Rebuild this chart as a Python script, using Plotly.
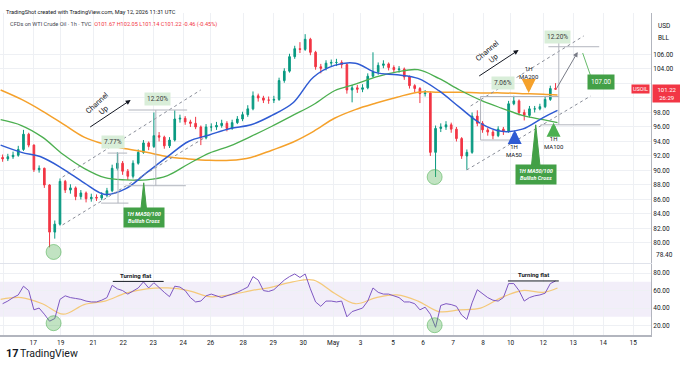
import plotly.graph_objects as go
import pandas as pd

# ---------------- data ----------------
FIRST_OPEN = 91.8
close = [91.6, 91.9, 92.1, 92.9, 95.0, 93.5, 90.1, 90.3, 88.0, 81.5,
         82.6, 88.5, 87.3, 87.6, 86.4, 86.9, 86.1, 86.3, 86.2, 86.6,
         87.2, 90.3, 91.0, 89.9, 89.2, 91.0, 92.5, 93.8, 93.3, 94.8,
         94.6, 93.4, 94.2, 97.1, 97.2, 96.7, 96.5, 96.0, 94.5, 96.0,
         96.0, 96.2, 96.5, 95.8, 96.6, 97.1, 97.7, 98.5, 100.3, 100.0,
         99.7, 99.7, 99.8, 102.4, 103.7, 105.7, 106.8, 106.7, 108.1, 106.3,
         104.3, 104.1, 104.8, 104.9, 104.9, 104.6, 101.1, 101.4, 101.2, 101.4,
         103.0, 103.6, 104.5, 104.7, 104.2, 103.9, 104.0, 102.9, 101.7, 101.3,
         100.6, 100.7, 92.5, 95.8, 96.0, 96.3, 95.7, 94.4, 92.0, 92.5,
         97.5, 96.5, 95.6, 95.3, 94.8, 95.7, 95.4, 99.2, 99.6, 98.0,
         97.6, 98.5, 98.5, 98.8, 99.8, 101.3, 101.22]
high = [92.2, 92.3, 92.6, 93.4, 95.6, 95.2, 93.6, 90.7, 90.4, 88.1,
        83.1, 88.9, 88.7, 88.1, 87.8, 87.3, 87.1, 86.8, 86.7, 87.0,
        87.6, 90.8, 92.5, 91.3, 90.2, 91.4, 92.9, 94.2, 94.0, 98.0,
        95.3, 94.8, 94.6, 98.3, 97.7, 97.5, 97.0, 97.4, 96.2, 96.4,
        96.5, 96.7, 97.0, 96.8, 97.0, 97.5, 98.1, 99.0, 100.9, 100.6,
        100.3, 100.2, 100.3, 102.8, 104.1, 106.1, 107.2, 107.7, 108.8, 108.3,
        106.5, 104.7, 105.2, 105.3, 105.4, 105.2, 104.8, 101.8, 101.8, 101.9,
        103.4, 106.3, 104.9, 105.2, 104.9, 104.5, 104.4, 104.2, 103.1, 101.9,
        101.5, 101.1, 100.9, 96.2, 96.5, 96.8, 96.6, 96.0, 94.6, 92.9,
        98.0, 98.3, 96.8, 95.9, 95.6, 96.1, 96.0, 99.6, 100.3, 99.8,
        98.4, 98.9, 98.9, 99.2, 100.2, 101.7, 102.05]
low = [91.2, 91.3, 91.6, 91.9, 92.7, 93.2, 89.8, 89.7, 87.6, 79.4,
       80.6, 82.4, 86.9, 86.8, 85.9, 86.0, 85.6, 85.7, 85.8, 85.9,
       86.3, 87.0, 90.0, 89.4, 88.7, 88.9, 90.8, 92.3, 92.8, 93.1,
       94.0, 93.0, 93.1, 94.0, 96.6, 96.3, 96.0, 95.7, 93.5, 94.3,
       95.4, 95.6, 95.9, 95.4, 95.6, 96.4, 96.8, 97.4, 98.3, 99.5,
       99.3, 99.2, 99.3, 99.6, 102.1, 103.5, 105.4, 106.2, 106.5, 105.9,
       103.9, 103.4, 103.8, 104.4, 104.4, 104.1, 100.6, 99.4, 100.7, 100.8,
       101.2, 102.8, 103.2, 104.1, 103.8, 103.5, 103.5, 102.5, 101.3, 100.8,
       99.3, 100.2, 92.0, 89.1, 95.3, 95.6, 95.2, 94.0, 91.6, 90.1,
       92.3, 96.1, 95.2, 94.8, 94.3, 94.6, 94.9, 95.2, 99.0, 97.6,
       96.9, 97.3, 98.0, 98.3, 98.6, 99.6, 101.14]
rsi = [45, 48, 52, 55, 65, 60, 38, 40, 33, 25,
       28, 50, 54, 52, 51, 50, 48, 47, 47, 49,
       52, 66, 62, 60, 56, 60, 63, 70, 63, 69,
       63, 58, 53, 65, 64, 60, 52, 47, 48, 54,
       56, 54, 52, 54, 56, 58, 61, 64, 76, 72,
       60, 59, 61, 67, 72, 76, 79, 75, 79, 62,
       47, 42, 48, 48, 47, 48, 30, 36, 38, 40,
       48, 63, 58, 56, 56, 54, 52, 47, 47, 45,
       38, 41, 33, 18, 43, 45, 44, 42, 32, 27,
       46, 61, 56, 52, 49, 48, 52, 68, 68, 60,
       48, 52, 54, 55, 57, 68, 71]
ma_idx = [0, 16, 32, 48, 64, 80, 96, 112, 128, 144, 160, 176, 192, 208,
          224, 240, 256, 272, 288, 304, 320, 336, 352, 368, 384, 400, 416, 427]
ma50 = [93.5, 92.5, 91.8, 90.2, 88.3, 86.7, 87.5, 89.7, 91.9, 94.0, 94.9, 95.8, 96.3, 97.6,
        99.3, 102.9, 104.5, 104.8, 103.5, 103.2, 102.7, 101.0, 98.7, 96.5, 95.4, 95.7, 97.3, 98.3]
ma100 = [97.0, 96.2, 94.6, 92.2, 90.3, 89.0, 88.7, 88.7, 89.3, 90.9, 92.4, 93.4, 94.7, 96.1,
         97.6, 99.1, 101.0, 101.9, 102.9, 103.6, 103.9, 102.7, 101.1, 99.7, 98.6, 97.6, 97.0, 96.6]
ma200 = [101.1, 99.8, 98.2, 96.4, 94.6, 93.6, 93.0, 92.5, 91.9, 91.6, 91.4, 91.4, 91.8, 92.8,
         93.9, 95.4, 97.2, 98.4, 99.3, 100.1, 100.8, 100.8, 100.8, 100.7, 100.7, 100.6, 100.5, 100.4]
rsi_ma = [50, 52, 45, 33, 44, 48, 57, 62, 63, 60, 53, 55, 60, 64,
          70, 72, 57, 45, 52, 55, 48, 36, 38, 40, 52, 60, 58, 63]
tick_dates = ["2026-04-16", "2026-04-17", "2026-04-19", "2026-04-21", "2026-04-22", "2026-04-23",
              "2026-04-24", "2026-04-26", "2026-04-28", "2026-04-29", "2026-04-30", "2026-05-01",
              "2026-05-03", "2026-05-05", "2026-05-06", "2026-05-07", "2026-05-08", "2026-05-10",
              "2026-05-12", "2026-05-13", "2026-05-14", "2026-05-15"]
tick_text = ["16", "17", "19", "21", "22", "23", "24", "26", "28", "29", "30", "May",
             "3", "5", "6", "7", "8", "10", "12", "13", "14", "15"]
price_ticks = [80, 82, 84, 86, 88, 90, 92, 94, 96, 98, 100, 102, 104, 106]
rsi_ticks = [20, 40, 60, 80]
LAST = 101.22

# ---------------- session calendar (1h bars, UTC) ----------------
def session_open(t):
    if t.hour == 21:
        return False
    wd = t.weekday()
    if wd == 5:
        return False
    if wd == 6 and t.hour < 22:
        return False
    if wd == 4 and t.hour >= 21:
        return False
    return True

hours = pd.date_range("2026-04-15 22:00", "2026-05-15 23:00", freq="h")
bars = [t for t in hours if session_open(t)]
first_bar = {}
for i, t in enumerate(bars):
    first_bar.setdefault(t.strftime("%Y-%m-%d"), i)
tick_idx = [first_bar[d] for d in tick_dates]

N = 4  # hourly bars per candle drawn
cx = [N * k + (N - 1) / 2 for k in range(len(close))]
opens = [FIRST_OPEN] + close[:-1]

FONT = "Roboto, 'Noto Sans', sans-serif"
DARK = "#131722"
GREEN_UP = "#089981"
RED = "#F23645"
LBL_GREEN = "#43a047"

fig = go.Figure()
fig.add_trace(go.Candlestick(
    x=cx, open=opens, high=high, low=low, close=close,
    increasing=dict(line=dict(color=GREEN_UP, width=1), fillcolor=GREEN_UP),
    decreasing=dict(line=dict(color=RED, width=1), fillcolor=RED),
    whiskerwidth=0, xaxis="x", yaxis="y", showlegend=False, hoverinfo="skip"))
fig.add_trace(go.Scatter(x=ma_idx, y=ma200, mode="lines", line=dict(color="#f5a12b", width=1.5, shape="spline"), xaxis="x", yaxis="y"))
fig.add_trace(go.Scatter(x=ma_idx, y=ma100, mode="lines", line=dict(color="#4caf50", width=1.3, shape="spline"), xaxis="x", yaxis="y"))
fig.add_trace(go.Scatter(x=ma_idx, y=ma50, mode="lines", line=dict(color="#2f5bd3", width=1.5, shape="spline"), xaxis="x", yaxis="y"))

# green circles at the lows
fig.add_trace(go.Scatter(x=[40.6, 332.8], y=[78.76, 89.1], mode="markers",
                         marker=dict(size=15, color="rgba(76,175,80,0.35)", line=dict(color="rgba(76,175,80,0.55)", width=1)),
                         xaxis="x", yaxis="y"))
# RSI
fig.add_trace(go.Scatter(x=ma_idx, y=rsi_ma, mode="lines", line=dict(color="#f4c97a", width=1.2, shape="spline"), xaxis="x2", yaxis="y2"))
fig.add_trace(go.Scatter(x=cx, y=rsi, mode="lines", line=dict(color="#7e57c2", width=1), xaxis="x2", yaxis="y2"))
fig.add_trace(go.Scatter(x=[40.6, 332.8], y=[22.7, 20.4], mode="markers",
                         marker=dict(size=15, color="rgba(76,175,80,0.35)", line=dict(color="rgba(76,175,80,0.55)", width=1)),
                         xaxis="x2", yaxis="y2"))

shapes = []
def seg(x0, y0, x1, y1, color="#b2b5be", width=1, dash="solid", xr="x", yr="y"):
    shapes.append(dict(type="line", xref=xr, yref=yr, x0=x0, y0=y0, x1=x1, y1=y1,
                       line=dict(color=color, width=width, dash=dash)))

# RSI band
shapes.append(dict(type="rect", xref="paper", yref="y2", x0=0, x1=1, y0=30, y1=70,
                   fillcolor="rgba(126,87,194,0.10)", line=dict(width=0), layer="below"))
# channel lines (dotted)
seg(47.5, 89.1, 153.4, 101.1, "#8a8e99", 1, "dot")
seg(47.5, 82.5, 157.0, 94.6, "#8a8e99", 1, "dot")
seg(360.4, 98.9, 447.1, 108.55, "#8a8e99", 1, "dot")
seg(357.4, 90.07, 452.5, 100.28, "#8a8e99", 1, "dot")
# measure lines
seg(98, 98.34, 143, 98.34); seg(97, 87.9, 142, 87.9); seg(119, 87.9, 119, 98.34)
seg(82, 92.4, 97, 92.4); seg(77, 85.5, 98, 85.5); seg(90, 85.5, 90, 92.4)
seg(420, 107.07, 459, 107.07); seg(414, 96.3, 460, 96.3); seg(428, 96.3, 428, 107.8)
seg(368, 100.2, 428, 100.2); seg(368, 94.2, 391, 94.2); seg(368, 94.2, 368, 100.2)
# leader line to 107.00 label
seg(452.5, 103.0, 446.3, 106.2, "#66bb6a", 1)
# callout pointers
shapes.append(dict(type="path", xref="x", yref="y", path="M 107.4,84.4 L 112.0,84.4 L 109.7,88.3 Z",
                   fillcolor=LBL_GREEN, line=dict(color=LBL_GREEN, width=1)))
shapes.append(dict(type="path", xref="x", yref="y", path="M 407.0,90.6 L 413.6,90.6 L 410.3,96.3 Z",
                   fillcolor=LBL_GREEN, line=dict(color=LBL_GREEN, width=1)))
# turning flat lines on RSI
seg(86, 70.5, 125, 70.5, DARK, 1, xr="x2", yr="y2")
seg(389, 71, 428, 71, DARK, 1, xr="x2", yr="y2")

ann = []
def txt(x, y, text, size=6.5, color=DARK, xr="x", yr="y", **kw):
    d = dict(x=x, y=y, xref=xr, yref=yr, text=text, showarrow=False,
             font=dict(family=FONT, size=size, color=color))
    d.update(kw)
    ann.append(d)

def arrow(x0, y0, x1, y1, color, width=1, head=2, size=1.0):
    ann.append(dict(x=x1, y=y1, ax=x0, ay=y0, xref="x", yref="y", axref="x", ayref="y",
                    text="", showarrow=True, arrowhead=head, arrowsize=size,
                    arrowwidth=width, arrowcolor=color, standoff=0, startstandoff=0))

# left drawings
txt(76.7, 98.76, "Channel<br>Up", 7.5, textangle=-42)
arrow(67.5, 95.86, 99.7, 99.72, DARK, 1, 2, 1)
txt(120.4, 99.86, "12.20%", 6.5, "#3a3a3a", bgcolor="#d9eed9", borderpad=2)
txt(85.9, 93.93, "7.77%", 6.5, "#3a3a3a", bgcolor="#d9eed9", borderpad=2)
txt(109.7, 83.45, "<b><i>1H MA50/100<br>Bullish Cross</i></b>", 5.5, "white", bgcolor=LBL_GREEN, borderpad=3)
# right drawings
txt(375.8, 105.93, "Channel<br>Up", 7.5, textangle=-40)
arrow(365.8, 102.9, 397.2, 106.62, DARK, 1, 2, 1)
txt(427.1, 108.41, "12.20%", 6.5, "#3a3a3a", bgcolor="#d9eed9", borderpad=2)
txt(385.0, 102.07, "7.06%", 6.5, "#3a3a3a", bgcolor="#d9eed9", borderpad=2)
txt(404.9, 103.45, "1H<br>MA200", 6, DARK)
arrow(404.9, 102.3, 404.9, 100.7, "#f5a12b", 4, 2, 0.7)
arrow(394.2, 94.0, 394.2, 95.6, "#2f5bd3", 4, 2, 0.7)
txt(394.2, 92.8, "1H<br>MA50", 6, DARK)
arrow(424.0, 95.0, 424.0, 96.6, "#4caf50", 4, 2, 0.7)
txt(424.0, 93.8, "1H<br>MA100", 6, DARK)
txt(410.3, 89.38, "<b><i>1H MA50/100<br>Bullish Cross</i></b>", 5.5, "white", bgcolor=LBL_GREEN, borderpad=3)
arrow(425.6, 101.1, 442.5, 106.34, "#787b86", 1, 2, 1)
txt(460.1, 102.2, "107.00", 6.5, "white", bgcolor=LBL_GREEN, borderpad=3)
# RSI labels
txt(103.5, 77.5, "<b>Turning flat</b>", 6, DARK, xr="x2", yr="y2")
txt(408.7, 78.0, "<b>Turning flat</b>", 6, DARK, xr="x2", yr="y2")

# price tags / axis extras
txt(1.0, LAST, "101.22<br>26:29", 6, "white", xr="paper", yr="y", xanchor="left", yanchor="top",
    yshift=5, bgcolor=RED, borderpad=1, width=26, xshift=1)
txt(1.0, LAST, "USOIL", 5.5, "white", xr="paper", yr="y", xanchor="right", bgcolor=RED, borderpad=1, xshift=-1)
txt(1.0, 78.4, "78.40", 6.5, DARK, xr="paper", yr="y", xanchor="left", xshift=3)
txt(1.0, 0.978, "USD", 6.5, DARK, xr="paper", yr="paper", xanchor="left", xshift=5)
txt(1.0, 0.941, "BLL", 6.5, DARK, xr="paper", yr="paper", xanchor="left", xshift=5)
# header
txt(0.006, 1.0186, "TradingShot created with TradingView.com, May 12, 2026 11:31 UTC", 5.6, DARK,
    xr="paper", yr="paper", xanchor="left")
txt(0.012, 0.981,
    "CFDs on WTI Crude Oil · 1h · TVC  <span style='color:#F23645'>O101.67 H102.05 L101.14 C101.22 -0.46 (-0.45%)</span>",
    5.6, "#434651", xr="paper", yr="paper", xanchor="left")
# logo
txt(0.006, -0.084, "<b>17</b>", 11, DARK, xr="paper", yr="paper", xanchor="left")
txt(0.027, -0.084, "TradingView", 10.5, DARK, xr="paper", yr="paper", xanchor="left")

GRID = "#eef0f4"
xr_ = [-0.5, 498.7]
fig.update_layout(
    width=680, height=375, margin=dict(l=0, r=29, t=13, b=40),
    paper_bgcolor="white", plot_bgcolor="white", showlegend=False, boxgap=0.55,
    shapes=shapes, annotations=ann, font=dict(family=FONT, color=DARK),
    xaxis=dict(domain=[0, 1], range=xr_, tickvals=tick_idx, showticklabels=False, showgrid=True,
               gridcolor=GRID, zeroline=False, rangeslider=dict(visible=False), anchor="y",
               showline=True, linecolor="#e0e3eb", linewidth=1),
    xaxis2=dict(domain=[0, 1], range=xr_, matches="x", tickvals=tick_idx, ticktext=tick_text,
                showgrid=True, gridcolor=GRID, zeroline=False, anchor="y2",
                tickfont=dict(size=6.5, color=DARK, family=FONT),
                showline=True, linecolor="#b2b5be", linewidth=1.5, ticks=""),
    yaxis=dict(domain=[0.2236, 1], range=[77.24, 111.72], side="right", tickvals=price_ticks,
               ticktext=[f"{v:.2f}" if v not in (100, 102) else "" for v in price_ticks],
               tickfont=dict(size=6.5, color=DARK, family=FONT), gridcolor=GRID, zeroline=False,
               showline=True, linecolor="#b2b5be", linewidth=1, ticks=""),
    yaxis2=dict(domain=[0, 0.2205], range=[9.2, 90.4], side="right", tickvals=rsi_ticks,
                ticktext=[f"{v:.2f}" for v in rsi_ticks],
                tickfont=dict(size=6.5, color=DARK, family=FONT), gridcolor=GRID, zeroline=False,
                showline=True, linecolor="#b2b5be", linewidth=1, ticks=""),
)
fig.write_html("out.html")
